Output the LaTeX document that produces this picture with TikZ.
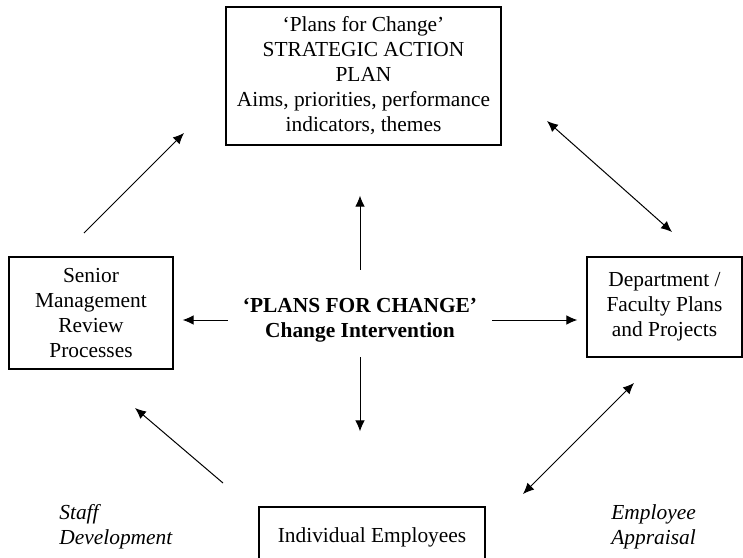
\documentclass[tikz,border=0pt]{standalone}
\usepackage{fontspec}
\setmainfont{Liberation Serif}
\usetikzlibrary{arrows.meta}

\begin{document}
\begin{tikzpicture}[x=0.5pt,y=-0.5pt,
			box/.style={draw,line width=0.6pt,rectangle,inner sep=0pt,align=center,font=\fontsize{10.7}{12.5}\selectfont},
			arr/.style={line width=0.5pt,-{Latex[length=5.5pt,width=4.8pt]}},
			darr/.style={line width=0.5pt,{Latex[length=5.5pt,width=4.8pt]}-{Latex[length=5.5pt,width=4.8pt]}},
			note/.style={align=left,inner sep=0pt,anchor=west,font=\fontsize{10.7}{12.5}\selectfont\itshape}]
			\clip (0,0) rectangle (743,557);
			\node (plan) [box,minimum width=137.5pt,minimum height=69pt] at (363.5,76)
				{‘Plans for Change’\\STRATEGIC ACTION\\PLAN\\Aims, priorities, performance\\indicators, themes};
			\node (senior) [box,minimum width=82pt,minimum height=56pt] at (91,313)
				{Senior\\Management\\Review\\Processes};
			\node (dept) [box,minimum width=77.5pt,minimum height=50pt] at (664.5,307)
				{Department /\\Faculty Plans\\and Projects};
			\node (indiv) [box,minimum width=113pt,minimum height=30pt] at (372,537)
				{Individual Employees};
			\node (change) [align=center,inner sep=0pt,minimum width=130pt,minimum height=37pt,
				font=\fontsize{10.7}{12.5}\selectfont\bfseries] at (360,320)
				{‘PLANS FOR CHANGE’\\Change Intervention};

			\node (staff) [note] at (59,527) {Staff\\Development};
			\node (apprais) [note] at (611,527) {Employee\\Appraisal};

			\draw [arr,shorten <=6.5pt,shorten >=25pt] (change.north) -- (change.north |- plan.south);
			\draw [arr,shorten >=37.5pt] (change.south) -- (change.south |- indiv.north);
			\draw [arr,shorten <=1pt,shorten >=4.5pt] (change.west) -- (change.west -| senior.east);
			\draw [arr,shorten <=1pt,shorten >=4.5pt] (change.east) -- (change.east -| dept.west);

			\coordinate (sm1) at (84,233);
			\coordinate (sm2) at (184,133);
			\coordinate (dp1) at (547,121);
			\coordinate (dp2) at (672,232);
			\coordinate (ie1) at (223,483);
			\coordinate (ie2) at (135,408);
			\coordinate (ea1) at (634,383);
			\coordinate (ea2) at (523,494);
			\draw [arr] (sm1) -- (sm2);
			\draw [darr] (dp1) -- (dp2);
			\draw [arr] (ie1) -- (ie2);
			\draw [darr] (ea1) -- (ea2);
		\end{tikzpicture}
\end{document}
